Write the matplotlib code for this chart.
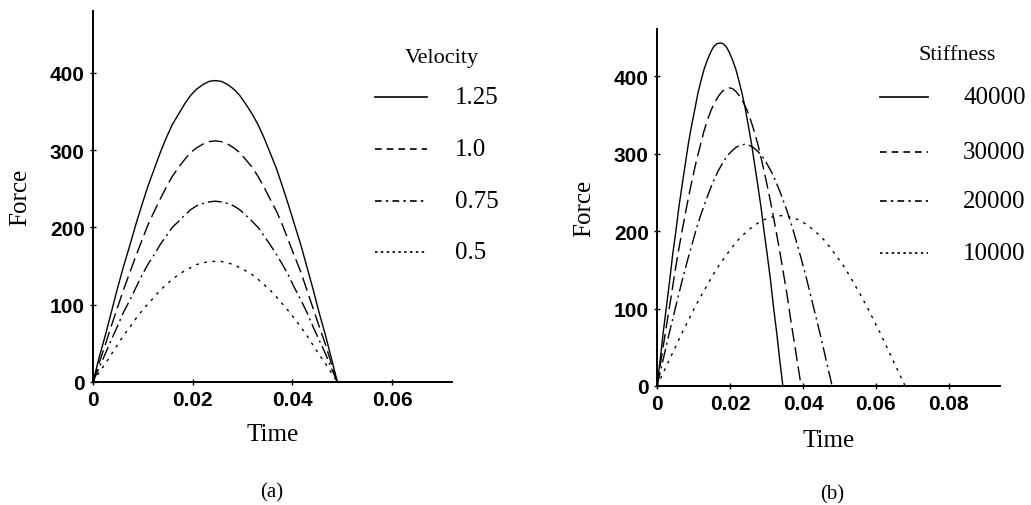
import matplotlib
matplotlib.use('Agg')
import matplotlib.pyplot as plt
from matplotlib.lines import Line2D

# (a) force vs time for several impact velocities
time_a = [0, .0012, .0025, .0037, .0049, .0061, .0074, .0086, .0098, .0110, .0123, .0135, .0147, .0159,
          .0172, .0184, .0196, .0208, .0221, .0233, .0245, .0257, .0270, .0282, .0294, .0306, .0319,
          .0331, .0343, .0355, .0368, .0380, .0392, .0404, .0417, .0429, .0441, .0453, .0466, .0478, .049]
velocity_labels = ['1.25', '1.0', '0.75', '0.5']
force_v125 = [0, 31, 61, 91, 121, 149, 177, 204, 229, 253, 276, 297, 316, 333, 347, 360, 371, 379, 385, 389, 390,
              389, 385, 379, 371, 360, 347, 333, 316, 297, 276, 253, 229, 204, 177, 149, 121, 91, 61, 31, 0]
force_v100 = [0, 24, 49, 73, 96, 119, 142, 163, 183, 203, 221, 237, 252, 266, 278, 288, 297, 303, 308, 311, 312,
              311, 308, 303, 297, 288, 278, 266, 252, 237, 221, 203, 183, 163, 142, 119, 96, 73, 49, 24, 0]
force_v075 = [0, 18, 37, 55, 72, 90, 106, 122, 138, 152, 165, 178, 189, 200, 208, 216, 223, 228, 231, 233, 234,
              233, 231, 228, 223, 216, 208, 200, 189, 178, 165, 152, 138, 122, 106, 90, 72, 55, 37, 18, 0]
force_v050 = [0, 12, 24, 36, 48, 60, 71, 82, 92, 101, 110, 119, 126, 133, 139, 144, 148, 152, 154, 156, 156,
              156, 154, 152, 148, 144, 139, 133, 126, 119, 110, 101, 92, 82, 71, 60, 48, 36, 24, 12, 0]

# (b) force vs time for several stiffness values
stiffness_labels = ['40000', '30000', '20000', '10000']
time_k40 = [0, .0009, .0017, .0026, .0035, .0043, .0052, .0060, .0069, .0078, .0086, .0095, .0104, .0112,
            .0121, .0129, .0138, .0147, .0155, .0164, .0173, .0181, .0190, .0198, .0207, .0216, .0224,
            .0233, .0242, .0250, .0259, .0267, .0276, .0285, .0293, .0302, .0311, .0319, .0328, .0336, .0345]
force_k40 = [0, 35, 69, 103, 137, 170, 201, 231, 260, 288, 313, 337, 358, 378, 395, 409, 421, 431, 438, 442, 443,
             442, 438, 431, 421, 409, 395, 378, 358, 337, 313, 288, 260, 231, 201, 170, 137, 103, 69, 35, 0]
time_k30 = [0, .0010, .0020, .0030, .0040, .0049, .0059, .0069, .0079, .0089, .0099, .0109, .0119, .0128,
            .0138, .0148, .0158, .0168, .0178, .0188, .0198, .0207, .0217, .0227, .0237, .0247, .0257,
            .0267, .0277, .0286, .0296, .0306, .0316, .0326, .0336, .0346, .0356, .0365, .0375, .0385, .0395]
force_k30 = [0, 30, 60, 90, 119, 147, 175, 201, 226, 250, 272, 293, 311, 328, 343, 356, 366, 374, 380, 384, 385,
             384, 380, 374, 366, 356, 343, 328, 311, 293, 272, 250, 226, 201, 175, 147, 119, 90, 60, 30, 0]
time_k20 = [0, .0012, .0024, .0036, .0048, .0060, .0072, .0084, .0096, .0108, .0120, .0132, .0144, .0156,
            .0168, .0180, .0192, .0204, .0216, .0228, .0240, .0252, .0264, .0276, .0288, .0300, .0312,
            .0324, .0336, .0348, .0360, .0372, .0384, .0396, .0408, .0420, .0432, .0444, .0456, .0468, .048]
force_k20 = [0, 24, 49, 73, 96, 119, 142, 163, 183, 203, 221, 237, 252, 266, 278, 288, 297, 303, 308, 311, 312,
             311, 308, 303, 297, 288, 278, 266, 252, 237, 221, 203, 183, 163, 142, 119, 96, 73, 49, 24, 0]
time_k10 = [0, .0017, .0034, .0051, .0068, .0085, .0102, .0119, .0136, .0153, .0170, .0187, .0204, .0221,
            .0238, .0255, .0272, .0289, .0306, .0323, .0340, .0357, .0374, .0391, .0408, .0425, .0442,
            .0459, .0476, .0493, .0510, .0527, .0544, .0561, .0578, .0595, .0612, .0629, .0646, .0663, .068]
force_k10 = [0, 17, 34, 51, 68, 84, 100, 115, 129, 143, 156, 167, 178, 188, 196, 203, 209, 214, 217, 219, 220,
             219, 217, 214, 209, 203, 196, 188, 178, 167, 156, 143, 129, 115, 100, 84, 68, 51, 34, 17, 0]

curve_dashes = [None, (10, 4), (10, 3, 1.5, 3), (2, 4)]
key_dashes = [None, (4, 3), (4, 2.5, 1.5, 2.5), (1.5, 2)]

serif = 'Liberation Serif'
sans = 'Liberation Sans'


def style_axes(ax, xlim, ylim, xticks, xpad, ypad):
    ax.set_xlim(*xlim)
    ax.set_ylim(*ylim)
    ax.set_xticks(xticks)
    ax.set_xticklabels(['0' if t == 0 else f'{t:g}' for t in xticks])
    ax.set_yticks([0, 100, 200, 300, 400])
    for s in ['top', 'right']:
        ax.spines[s].set_visible(False)
    for s in ['left', 'bottom']:
        ax.spines[s].set_linewidth(1.4)
    ax.tick_params(direction='inout', length=4, width=1, labelsize=15, pad=4)
    for lab in ax.get_xticklabels() + ax.get_yticklabels():
        lab.set_fontfamily(sans)
        lab.set_fontweight('bold')
    ax.set_xlabel('Time', fontfamily=serif, fontsize=18, labelpad=xpad)
    ax.set_ylabel('Force', fontfamily=serif, fontsize=18, labelpad=ypad)


def draw_curve(ax, t, f, dash):
    line, = ax.plot(t, f, color='black', lw=1.0)
    if dash is not None:
        line.set_dashes(dash)


def draw_key(fig, title, labels, title_xy, x0, x1, xtext, ys):
    fig.text(title_xy[0] / 1031, 1 - title_xy[1] / 506, title, fontfamily=serif,
             fontsize=16, ha='center', va='center')
    for lab, y, dash in zip(labels, ys, key_dashes):
        yy = 1 - y / 506
        ln = Line2D([x0 / 1031, x1 / 1031], [yy, yy], color='black', lw=1.2,
                    transform=fig.transFigure)
        if dash is not None:
            ln.set_dashes(dash)
        fig.add_artist(ln)
        fig.text(xtext / 1031, yy, lab, fontfamily=serif, fontsize=18, ha='left', va='center')


fig = plt.figure(figsize=(10.31, 5.06), dpi=100)

ax1 = fig.add_axes([93 / 1031, 123 / 506, 359 / 1031, 371 / 506])
for f, d in zip([force_v125, force_v100, force_v075, force_v050], curve_dashes):
    draw_curve(ax1, time_a, f, d)
style_axes(ax1, (0, 0.072), (0, 480), [0, 0.02, 0.04, 0.06], 10, 13)

ax2 = fig.add_axes([657 / 1031, 119 / 506, 343 / 1031, 357 / 506])
for t, f, d in zip([time_k40, time_k30, time_k20, time_k10],
                   [force_k40, force_k30, force_k20, force_k10], curve_dashes):
    draw_curve(ax2, t, f, d)
style_axes(ax2, (0, 0.094), (0, 461), [0, 0.02, 0.04, 0.06, 0.08], 11, 13)

draw_key(fig, 'Velocity', velocity_labels, (442, 58), 375, 427, 455, [98, 150, 202, 253])
draw_key(fig, 'Stiffness', stiffness_labels, (957, 55), 880, 928, 963, [98, 153, 202, 254])

fig.text(272 / 1031, 1 - 493 / 506, '(a)', fontfamily=serif, fontsize=15, ha='center', va='center')
fig.text(832 / 1031, 1 - 495 / 506, '(b)', fontfamily=serif, fontsize=15, ha='center', va='center')

fig.savefig('out.png', dpi=100)
